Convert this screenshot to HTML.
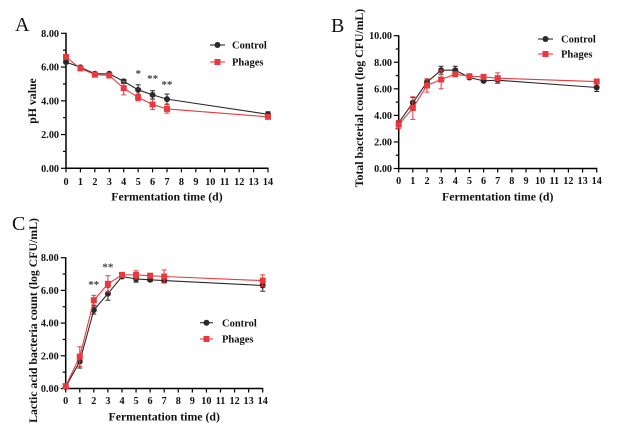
<!DOCTYPE html>
<html><head><meta charset="utf-8">
<style>
html,body{margin:0;padding:0;background:#fff;}
svg{display:block;}
text{font-family:"Liberation Serif","DejaVu Serif",serif;}
.t{font-size:10.2px;font-weight:bold;fill:#111;}
.ti{font-size:11.8px;font-weight:bold;fill:#111;}
.lg{font-size:10.5px;font-weight:bold;fill:#111;}
.pl{font-size:20px;fill:#111;}
.st{font-size:11px;font-weight:bold;fill:#444;}
</style></head>
<body>
<svg id="s" width="638" height="444" viewBox="0 0 638 444" xmlns="http://www.w3.org/2000/svg">
<rect width="638" height="444" fill="#fff"/>
<g id="g"></g>
<text class="pl" x="15" y="31">A</text>
<text class="pl" x="331" y="32">B</text>
<text class="pl" x="12" y="230">C</text>

<g class="t" text-anchor="end">
<text x="59" y="171.8">0.00</text>
<text x="59" y="138.1">2.00</text>
<text x="59" y="104.3">4.00</text>
<text x="59" y="70.6">6.00</text>
<text x="59" y="36.8">8.00</text>
</g>
<g class="t" text-anchor="middle">
<text x="66" y="185">0</text><text x="80.4" y="185">1</text><text x="94.9" y="185">2</text><text x="109.3" y="185">3</text><text x="123.7" y="185">4</text><text x="138.2" y="185">5</text><text x="152.6" y="185">6</text><text x="167" y="185">7</text><text x="181.4" y="185">8</text><text x="195.9" y="185">9</text><text x="210.3" y="185">10</text><text x="224.7" y="185">11</text><text x="239.2" y="185">12</text><text x="253.6" y="185">13</text><text x="268" y="185">14</text>
</g>
<text class="ti" x="167" y="200.7" text-anchor="middle">Fermentation time (d)</text>
<text class="ti" x="32" y="101" text-anchor="middle" dominant-baseline="central" transform="rotate(-90 32 101)">pH value</text>
<text class="lg" x="232" y="48.7">Control</text>
<text class="lg" x="232" y="65.7">Phages</text>
<text class="st" x="138.2" y="77" text-anchor="middle">*</text>
<text class="st" x="152.6" y="82" text-anchor="middle">**</text>
<text class="st" x="167" y="88" text-anchor="middle">**</text>

<g class="t" text-anchor="end">
<text x="392" y="172">0.00</text>
<text x="392" y="145.4">2.00</text>
<text x="392" y="118.9">4.00</text>
<text x="392" y="92.3">6.00</text>
<text x="392" y="65.8">8.00</text>
<text x="392" y="39.2">10.00</text>
</g>
<g class="t" text-anchor="middle">
<text x="398.7" y="184">0</text><text x="412.8" y="184">1</text><text x="427" y="184">2</text><text x="441.1" y="184">3</text><text x="455.3" y="184">4</text><text x="469.4" y="184">5</text><text x="483.6" y="184">6</text><text x="497.7" y="184">7</text><text x="511.8" y="184">8</text><text x="526" y="184">9</text><text x="540.1" y="184">10</text><text x="554.3" y="184">11</text><text x="568.4" y="184">12</text><text x="582.6" y="184">13</text><text x="596.7" y="184">14</text>
</g>
<text class="ti" x="497.7" y="200.7" text-anchor="middle">Fermentation time (d)</text>
<text class="ti" x="359" y="98" text-anchor="middle" dominant-baseline="central" transform="rotate(-90 359 98)">Total bacterial count (log CFU/mL)</text>
<text class="lg" x="561" y="42.7">Control</text>
<text class="lg" x="561" y="57.7">Phages</text>

<g class="t" text-anchor="end">
<text x="58.7" y="392">0.00</text>
<text x="58.7" y="359.3">2.00</text>
<text x="58.7" y="326.6">4.00</text>
<text x="58.7" y="293.9">6.00</text>
<text x="58.7" y="261.2">8.00</text>
</g>
<g class="t" text-anchor="middle">
<text x="65.7" y="404">0</text><text x="79.8" y="404">1</text><text x="93.8" y="404">2</text><text x="107.9" y="404">3</text><text x="122" y="404">4</text><text x="136.1" y="404">5</text><text x="150.1" y="404">6</text><text x="164.2" y="404">7</text><text x="178.3" y="404">8</text><text x="192.3" y="404">9</text><text x="206.4" y="404">10</text><text x="220.5" y="404">11</text><text x="234.6" y="404">12</text><text x="248.6" y="404">13</text><text x="262.7" y="404">14</text>
</g>
<text class="ti" x="164.2" y="420.7" text-anchor="middle">Fermentation time (d)</text>
<text class="ti" x="33" y="320.5" text-anchor="middle" dominant-baseline="central" transform="rotate(-90 33 320.5)">Lactic acid bacteria count (log CFU/mL)</text>
<text class="lg" x="222" y="326.4">Control</text>
<text class="lg" x="222" y="342.7">Phages</text>
<text class="st" x="93.8" y="288" text-anchor="middle">**</text>
<text class="st" x="107.9" y="270.3" text-anchor="middle">**</text>
</svg>
<script>
(function(){
var NS="http://www.w3.org/2000/svg",g=document.getElementById("g");
function el(n,a){var e=document.createElementNS(NS,n);for(var k in a)e.setAttribute(k,a[k]);g.appendChild(e);return e;}
var BLK="#2a2a2a",RED="#e8393e";
var xs=[0,1,2,3,4,5,6,7,14];
function panel(p){
  var X=function(v){return p.x0+v*(p.x14-p.x0)/14;},Y=function(v){return p.y0-v*(p.y0-p.yt)/p.ymax;};
  el("line",{x1:p.x0,y1:p.y0,x2:p.x0,y2:p.yt-0.5,stroke:"#000","stroke-width":1.5});
  el("line",{x1:p.x0-0.75,y1:p.y0,x2:p.x14+0.5,y2:p.y0,stroke:"#000","stroke-width":1.5});
  for(var v=0;v<=p.ymax;v++){var L=(v%2==0)?5:3;el("line",{x1:p.x0-L,y1:Y(v),x2:p.x0,y2:Y(v),stroke:"#000","stroke-width":1.2});}
  for(var i=0;i<=14;i++){el("line",{x1:X(i),y1:p.y0,x2:X(i),y2:p.y0+4,stroke:"#000","stroke-width":1.2});}
  function series(d,e,col,sq){
    var pts=xs.map(function(x,i){return X(x)+","+Y(d[i]);}).join(" ");
    el("polyline",{points:pts,fill:"none",stroke:col,"stroke-width":1.1});
    xs.forEach(function(x,i){ if(e[i]>0){var cx=X(x),a=Y(d[i]+e[i]),b=Y(d[i]-e[i]);
      el("line",{x1:cx,y1:a,x2:cx,y2:b,stroke:col,"stroke-width":1});
      el("line",{x1:cx-2.5,y1:a,x2:cx+2.5,y2:a,stroke:col,"stroke-width":1});
      el("line",{x1:cx-2.5,y1:b,x2:cx+2.5,y2:b,stroke:col,"stroke-width":1});}});
    xs.forEach(function(x,i){var cx=X(x),cy=Y(d[i]);
      if(sq)el("rect",{x:cx-3,y:cy-3,width:6,height:6,fill:col});
      else el("circle",{cx:cx,cy:cy,r:3,fill:col});});
  }
  series(p.c,p.ce,BLK,false);
  series(p.p,p.pe,RED,true);
  var lx=p.lg[0],lx2=p.lg[1];
  el("line",{x1:lx,y1:p.lg[2],x2:lx2,y2:p.lg[2],stroke:BLK,"stroke-width":1.1});
  el("circle",{cx:(lx+lx2)/2,cy:p.lg[2],r:3,fill:BLK});
  el("line",{x1:lx,y1:p.lg[3],x2:lx2,y2:p.lg[3],stroke:RED,"stroke-width":1.1});
  el("rect",{x:(lx+lx2)/2-3,y:p.lg[3]-3,width:6,height:6,fill:RED});
}
panel({x0:66,x14:268,y0:168.3,yt:33.3,ymax:8,
 c:[6.3,5.98,5.6,5.6,5.15,4.65,4.35,4.1,3.2],ce:[0.1,0.05,0.05,0.08,0.12,0.3,0.25,0.3,0.15],
 p:[6.6,5.92,5.55,5.5,4.75,4.2,3.78,3.52,3.05],pe:[0.1,0.05,0.05,0.1,0.4,0.2,0.3,0.25,0.08],
 lg:[210,225,45,62]});
panel({x0:398.7,x14:596.7,y0:168.5,yt:35.7,ymax:10,
 c:[3.45,4.95,6.5,7.4,7.4,6.85,6.6,6.65,6.1],ce:[0.15,0.4,0.25,0.3,0.3,0.1,0.1,0.25,0.3],
 p:[3.3,4.55,6.25,6.7,7.1,6.95,6.9,6.8,6.55],pe:[0.3,0.85,0.5,0.7,0.15,0.1,0.1,0.4,0.1],
 lg:[538,553,39,54]});
panel({x0:65.7,x14:262.7,y0:388.5,yt:257.7,ymax:8,
 c:[0.1,1.65,4.8,5.8,6.85,6.7,6.65,6.6,6.3],ce:[0.05,0.4,0.25,0.4,0.1,0.2,0.1,0.15,0.35],
 p:[0.15,1.95,5.4,6.4,6.95,6.95,6.9,6.85,6.6],pe:[0.05,0.6,0.3,0.5,0.1,0.25,0.1,0.4,0.35],
 lg:[200,213,322.7,339]});
})();
</script>
</body></html>
